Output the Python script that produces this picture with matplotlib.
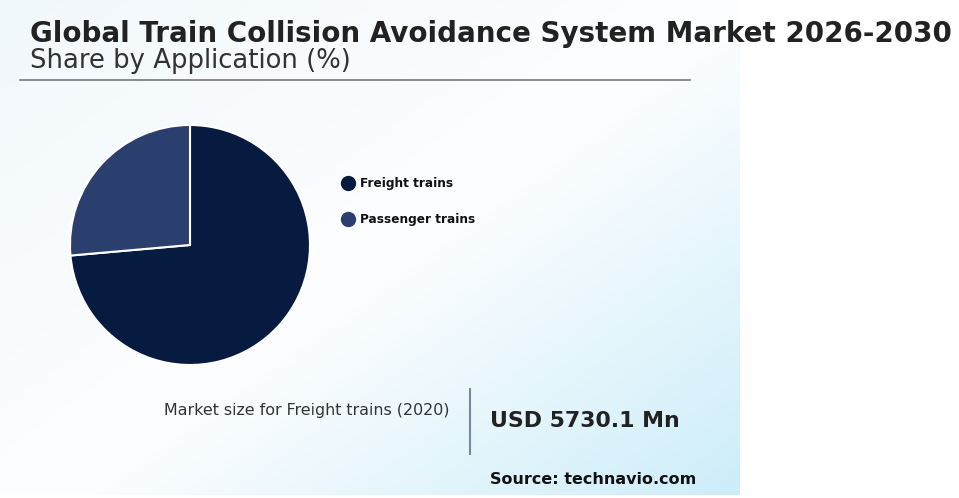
import numpy as np
import matplotlib.pyplot as plt
from matplotlib.colors import LinearSegmentedColormap

plt.rcParams['font.family'] = ['DejaVu Sans']

# Données
applications = ['Freight trains', 'Passenger trains']
parts = [73.6, 26.4]
couleurs = ['#071b40', '#2b3f6e']

titre = 'Global Train Collision Avoidance System Market 2026-2030'
sous_titre = 'Share by Application (%)'
texte_marche = 'Market size for Freight trains (2020)'
valeur_marche = 'USD 5730.1 Mn'
source = 'Source: technavio.com'

W, H = 959, 498
fig = plt.figure(figsize=(W / 100, H / 100), dpi=100)


def fy(py):
    # pixels depuis le haut -> coordonnée figure
    return 1 - py / H


# Fond dégradé diagonal (panneau gauche, 740 x 495 px)
fond = fig.add_axes([0, 3 / H, 740 / W, 1 - 3 / H])
px, py = np.meshgrid(np.linspace(0, 740, 370), np.linspace(0, 495, 248))
grad = (115 * px + 160 * py) / (115 * 740 + 160 * 495)
cmap = LinearSegmentedColormap.from_list(
    'fond', [(0, '#f1f8fc'), (0.53, '#fdfeff'), (1, '#cdedf9')])
fond.imshow(grad, cmap=cmap, vmin=0, vmax=1, aspect='auto', origin='upper', extent=[0, 1, 0, 1])
fond.set_axis_off()

# Titres
fig.text(30 / W, fy(41.5), titre, fontsize=20, fontweight='bold', color='#222222', va='baseline')
fig.text(30 / W, fy(68.5), sous_titre, fontsize=18.6, color='#333333', va='baseline')
fig.add_artist(plt.Line2D([20 / W, 690 / W], [fy(80), fy(80)], color='#777777', lw=1.2))

# Camembert
cx, cy, r = 190, 245, 120
ax = fig.add_axes([(cx - r) / W, fy(cy + r), 2 * r / W, 2 * r / H])
ax.pie(parts, colors=couleurs, startangle=90, counterclock=False,
       wedgeprops=dict(edgecolor='white', linewidth=1.5))
ax.set_xlim(-1, 1)
ax.set_ylim(-1, 1)
ax.set_aspect('equal')

# Légende
for i, (nom, c) in enumerate(zip(applications, couleurs)):
    fig.add_artist(plt.Line2D([348 / W], [fy(182.7 + 36 * i)], marker='o', markersize=10,
                              color=c, linestyle='none'))
    fig.text(360 / W, fy(187.3 + 36 * i), nom, fontsize=8.7, fontweight='bold',
             color='#111111', va='baseline')

# Taille du marché
fig.text(449 / W, fy(415), texte_marche, fontsize=11.4, color='#333333', ha='right', va='baseline')
fig.add_artist(plt.Line2D([470 / W, 470 / W], [fy(389), fy(454)], color='#7a8899', lw=1.5))
fig.text(490 / W, fy(427), valeur_marche, fontsize=15.8, fontweight='bold', color='#222222', va='baseline')
fig.text(490 / W, fy(484.3), source, fontsize=11.5, fontweight='bold', color='#111111', va='baseline')

fig.savefig('out.png', dpi=100)
